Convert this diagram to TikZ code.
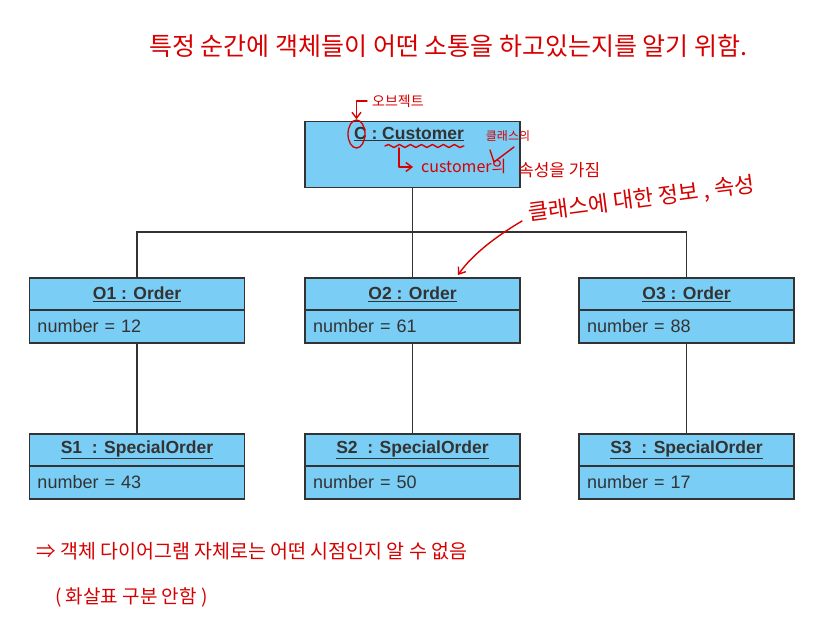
\documentclass[tikz,border=0pt]{standalone}
\usepackage{fontspec}
\setmainfont{Liberation Sans}
\newfontfamily\hand{Noto Sans CJK KR}
\usetikzlibrary{arrows.meta,calc,positioning,shapes.geometric,decorations.pathmorphing}
\definecolor{objfill}{HTML}{7ACDF4}
\definecolor{objline}{HTML}{333333}
\definecolor{pen}{HTML}{D60000}

\tikzset{
  objhead/.style={draw=objline,fill=objfill,line width=1.3pt,minimum width=215pt,
    minimum height=32pt,inner sep=0pt,outer sep=0pt,text=objline,
    font=\bfseries\fontsize{17.5}{19}\selectfont},
  objattr/.style={objhead,minimum height=33pt,text width=199pt,align=left,
    font=\fontsize{18}{20}\selectfont},
  link/.style={draw=objline,line width=1.2pt},
  pen/.style={text=pen,inner sep=0pt,font=\hand\fontsize{#1}{#1}\selectfont},
  penline/.style={draw=pen,line width=1.4pt,line cap=round,line join=round},
  penarrow/.style={penline,-{Straight Barb[length=6pt,width=9pt]}},
}

\begin{document}
\begin{tikzpicture}[x=1pt,y=-1pt]
  \useasboundingbox (0,0) rectangle (817,644);

  % objects
  \node[objhead,minimum height=66pt] (c) at (412.5,154.5) {};
  \node[text=objline,font=\bfseries\fontsize{17.5}{19}\selectfont] (ctitle) at (409,134) {\underline{C : Customer}};
  \foreach \i/\x/\n in {1/137/12,2/412.5/61,3/686.5/88}{
    \node[objhead] (o\i) at (\x,294) {\underline{O\i\ : Order}};
    \node[objattr,anchor=north] (o\i a) at (o\i.south) {number = \n};
  }
  \foreach \i/\x/\n in {1/137/43,2/412.5/50,3/686.5/17}{
    \node[objhead] (s\i) at (\x,450) {\underline{S\i\ \ : SpecialOrder}};
    \node[objattr,anchor=north] (s\i a) at (s\i.south) {number = \n};
  }

  % links
  \coordinate (bus) at (412.5,232);
  \draw[link] (c.south) -- (o2.north);
  \draw[link] (o1.north) -- (o1.north |- bus) -- (o3.north |- bus) -- (o3.north);
  \foreach \i in {1,2,3}
    \draw[link] (o\i a.south) -- (s\i.north);

  % handwritten notes
  \node[pen=25,anchor=west] (purpose) at (149,46) {특정 순간에 객체들이 어떤 소통을 하고있는지를 알기 위함.};

  \node[pen=14,anchor=west] (objnote) at (372,101) {오브젝트};
  \node[draw=pen,line width=1.3pt,ellipse,minimum width=17pt,minimum height=28pt,inner sep=0pt] (cmark) at (356.5,134) {};
  \draw[penarrow] ([xshift=-5pt]objnote.west) -| (cmark.north);

  \draw[penline,decorate,decoration={snake,amplitude=1.5pt,segment length=11pt}] (385,146) -- (464,146);
  \coordinate (wave) at (399,148);
  \node[pen=16,anchor=west] (custnote) at (421,167) {customer의};
  \draw[penarrow,shorten >=8pt] (wave) |- (custnote.west);

  \node[pen=12] (clsnote) at (508,136) {클래스의};
  \draw[penline] (490,150) -- (494,162) -- (514,147);
  \node[pen=17,anchor=west] (attrnote) at (518,170) {속성을 가짐};

  \node[pen=22,rotate=7.4,anchor=west] (infonote) at (528,214) {클래스에 대한 정보 , 속성};
  \coordinate (o2tip) at (458,275);
  \draw[penarrow] ([xshift=-6pt,yshift=-7pt]infonote.west) .. controls (495,237) and (472,255) .. (o2tip);

  \node[pen=19.5,anchor=west] (sumnote) at (36,551) {⇒ 객체 다이어그램 자체로는 어떤 시점인지 알 수 없음};
  \node[pen=19,anchor=west] (arrownote) at (55,597) {( 화살표 구분 안함 )};
\end{tikzpicture}
\end{document}
